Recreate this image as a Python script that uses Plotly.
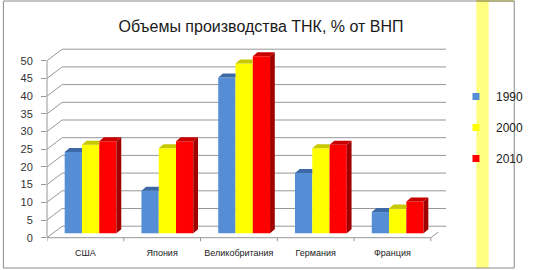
import plotly.graph_objects as go

# ---- data ----
countries = ["США", "Япония", "Великобритания", "Германия", "Франция"]
years = ["1990", "2000", "2010"]
v1990 = [23, 12, 44, 17, 6]
v2000 = [25, 24, 48, 24, 7]
v2010 = [26, 26, 50, 25, 9]
y_ticks = [0, 5, 10, 15, 20, 25, 30, 35, 40, 45, 50]
title_text = "Объемы производства ТНК, % от ВНП"

series = [v1990, v2000, v2010]
front_cols = ["#558ED5", "#FFFF00", "#FF0000"]
top_cols = ["#3D6AA6", "#C8C800", "#C80000"]
side_col = "#A00000"

# ---- geometry (pixel layout) ----
W, H = 541, 270
ML, MR, MT, MB = 47, 73, 48, 28
PXX, PXY = 81.0, 3.54
x_lo = -0.5
x_hi = x_lo + (W - ML - MR) / PXX
y_lo = -(H - MB - 237.7) / PXY
y_hi = y_lo + (H - MT - MB) / PXY

BACK_DX, BACK_DY = 16 / PXX, 11.5 / PXY
BAR_DX, BAR_DY = 5 / PXX, 4 / PXY
BASE = 4.4 / PXY
BAR_W = 0.225
OFFS = [-0.157, 0.068, 0.293]

def px2paper_x(px):
    return (px - ML) / (W - ML - MR)

def px2paper_y(py):
    return (H - MB - py) / (H - MT - MB)

fig = go.Figure()

# front faces (bars)
for s, vals in enumerate(series):
    fig.add_trace(go.Bar(
        x=[i + OFFS[s] for i in range(len(countries))], y=vals, base=BASE,
        width=BAR_W, marker=dict(color=front_cols[s], line=dict(width=0)),
        name=years[s], showlegend=False, hoverinfo="skip"))

# top faces and side faces
for s, vals in enumerate(series):
    xs, ys = [], []
    for i, v in enumerate(vals):
        x0 = i + OFFS[s] - BAR_W / 2
        x1 = i + OFFS[s] + BAR_W / 2
        t = BASE + v
        if s < len(series) - 1:
            xs += [x0, x1, x1, x0 + BAR_DX, x0, None]
        else:
            xs += [x0, x1, x1 + BAR_DX, x0 + BAR_DX, x0, None]
        ys += [t, t, t + BAR_DY, t + BAR_DY, t, None]
    fig.add_trace(go.Scatter(x=xs, y=ys, fill="toself", mode="lines",
                             line=dict(width=0, color=top_cols[s]),
                             fillcolor=top_cols[s], showlegend=False,
                             hoverinfo="skip"))
sx, sy = [], []
for i, v in enumerate(v2010):
    x1 = i + OFFS[2] + BAR_W / 2
    t = BASE + v
    sx += [x1, x1, x1 + BAR_DX, x1 + BAR_DX, x1, None]
    sy += [BASE, t, t + BAR_DY, BASE + BAR_DY, BASE, None]
fig.add_trace(go.Scatter(x=sx, y=sy, fill="toself", mode="lines",
                         line=dict(width=0, color=side_col), fillcolor=side_col,
                         showlegend=False, hoverinfo="skip"))

# legend-only entries
for s in range(3):
    fig.add_trace(go.Scatter(x=[None], y=[None], mode="markers",
                             marker=dict(symbol="square", size=7, color=front_cols[s]),
                             name=years[s], legendgroup=years[s]))

# ---- frame shapes ----
grid_col = "#979797"
shapes = []
for v in y_ticks:
    shapes.append(dict(type="line", xref="x", yref="y", layer="below",
                       x0=x_lo + BACK_DX, x1=x_hi, y0=v + BACK_DY, y1=v + BACK_DY,
                       line=dict(color=grid_col, width=1)))
    shapes.append(dict(type="line", xref="x", yref="y", layer="below",
                       x0=x_lo, x1=x_lo + BACK_DX, y0=v, y1=v + BACK_DY,
                       line=dict(color=grid_col, width=1)))
# front floor line
shapes.append(dict(type="line", xref="x", yref="y", layer="below",
                   x0=-0.5, x1=len(countries) - 0.5, y0=0, y1=0,
                   line=dict(color=grid_col, width=1)))
# right floor diagonal (dashed)
shapes.append(dict(type="line", xref="x", yref="y", layer="below",
                   x0=len(countries) - 0.5, x1=len(countries) - 0.5 + BACK_DX,
                   y0=0, y1=BACK_DY, line=dict(color=grid_col, width=1, dash="dash")))
# category boundary ticks
for k in range(len(countries) + 1):
    shapes.append(dict(type="line", xref="x", yref="y", layer="below",
                       x0=k - 0.5, x1=k - 0.5, y0=0, y1=-1.0,
                       line=dict(color=grid_col, width=1)))
# value axis line
shapes.append(dict(type="line", xref="paper", yref="y", layer="below",
                   x0=0, x1=0, y0=0, y1=max(y_ticks),
                   line=dict(color=grid_col, width=1)))
# highlight stripe
shapes.append(dict(type="rect", xref="paper", yref="paper", layer="below",
                   x0=px2paper_x(500), x1=px2paper_x(513),
                   y0=px2paper_y(268), y1=px2paper_y(0),
                   fillcolor="#FFFF80", line=dict(width=0)))
# chart border
shapes.append(dict(type="rect", xref="paper", yref="paper", layer="above",
                   x0=px2paper_x(1), x1=px2paper_x(540),
                   y0=px2paper_y(268), y1=px2paper_y(1),
                   fillcolor="rgba(0,0,0,0)", line=dict(color="#8A8A8A", width=1)))
shapes.append(dict(type="line", xref="paper", yref="paper", layer="above",
                   x0=px2paper_x(500), x1=px2paper_x(540),
                   y0=px2paper_y(1), y1=px2paper_y(1),
                   line=dict(color="#A0A040", width=1)))

fig.update_layout(
    width=W, height=H,
    margin=dict(l=ML, r=MR, t=MT, b=MB, pad=0),
    paper_bgcolor="white", plot_bgcolor="rgba(0,0,0,0)",
    font=dict(family="Liberation Sans, Arial, sans-serif", color="#222222"),
    title=dict(text=title_text, x=261 / W, xanchor="center", xref="container",
               y=1 - 26 / H, yanchor="middle", yref="container",
               font=dict(size=16, color="#1a1a1a")),
    barmode="overlay",
    xaxis=dict(range=[x_lo, x_hi], tickvals=list(range(len(countries))),
               ticktext=countries, ticks="", showgrid=False, zeroline=False,
               showline=False, tickfont=dict(size=9, color="#222222"),
               ticklabelstandoff=4, fixedrange=True),
    yaxis=dict(range=[y_lo, y_hi], tickvals=y_ticks, ticks="outside", ticklen=5,
               tickcolor=grid_col, showgrid=False, zeroline=False, showline=False,
               tickfont=dict(size=11, color="#333333"), ticklabelstandoff=6,
               fixedrange=True),
    legend=dict(x=1.025, xanchor="left", y=px2paper_y(82), yanchor="top",
                font=dict(size=12, color="#222222"), tracegroupgap=12,
                bgcolor="rgba(0,0,0,0)", itemsizing="trace"),
    shapes=shapes,
)

fig.write_html("out.html")
